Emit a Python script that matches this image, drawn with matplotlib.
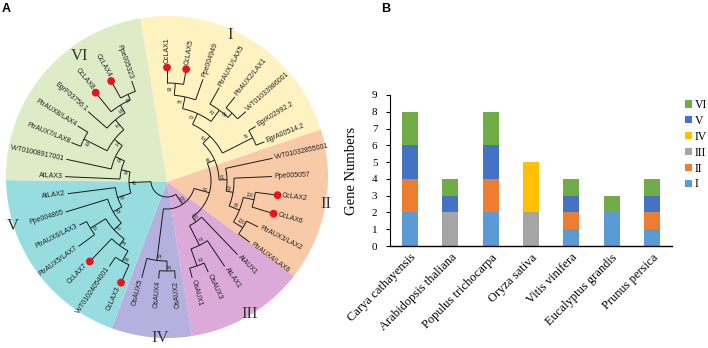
import matplotlib
matplotlib.use('Agg')
import matplotlib.pyplot as plt
import numpy as np
from matplotlib.patches import Polygon, Circle
from matplotlib.patches import Patch

# ---------------- Panel B data ----------------
species = ["Carya cathayensis", "Arabidopsis thaliana", "Populus trichocarpa",
           "Oryza sativa", "Vitis vinifera", "Eucalyptus grandis", "Prunus persica"]
groups = ["I", "II", "III", "IV", "V", "VI"]
group_I = [2, 0, 2, 0, 1, 2, 1]
group_II = [2, 0, 2, 0, 1, 0, 1]
group_III = [0, 2, 0, 2, 0, 0, 0]
group_IV = [0, 0, 0, 3, 0, 0, 0]
group_V = [2, 1, 2, 0, 1, 0, 1]
group_VI = [2, 1, 2, 0, 1, 1, 1]
group_colors = ["#5B9BD5", "#ED7D31", "#A5A5A5", "#FFC000", "#4472C4", "#70AD47"]
yticks = [0, 1, 2, 3, 4, 5, 6, 7, 8, 9]

# ---------------- Panel A data (tree) ----------------
# custom newick: name_or_bootstrap:radius (radius = distance from tree centre, px)
clade_I = ("((((CcLAX1:112,CcLAX5:112)90:98,Ppe004949:108)75:86,"
           "(PtrAUX1/LAX5:107,(PtrAUX2/LAX1:108,VvT01033986001:105)98:94)20:88)73:74,"
           "(EgrK02992.2:104,EgrA00514.2:105)76:96)62:62")
clade_II = ("(VvT01032855001:108,(Ppe005057:105,((CcLAX2:110,CcLAX6:110)100:89,"
            "(PtrAUX3/LAX2:102,PtrAUX4/LAX6:103)100:89)66:78)83:67)61:60")
clade_III = "(AtAUX1:102,(AtLAX1:103,(OsAUX3:100,OsAUX1:100)92:90)97:72)100:50"
clade_IV = "((OsAUX2:98,OsAUX4:98)38:90,OsAUX5:100)50:80"
clade_V = ("(((((CcLAX3:110,VvT01024054001:103)96:92,CcLAX7:110)38:80,"
           "(PtrAUX5/LAX7:110,PtrAUX6/LAX3:98)97:90)71:72,Ppe004865:106)80:62,AtLAX2:100)88:52")
clade_VI = ("(AtLAX3:102,(VvT01008917001:103,((PtrAUX7/LAX8:103,PtrAUX8/LAX4:105)99:93,"
            "(EgrF03756.1:105,(CcLAX8:112,(CcLAX4:113,Ppe005323:106)45:95)59:89)12:80)31:67)85:57)96:47")
tree_str = ("((((" + clade_I + "," + clade_II + ")49:52," + clade_III + ")84:44,"
            + clade_IV + ")100:28,(" + clade_V + "," + clade_VI + ")41:38):16")
highlight = ["CcLAX1", "CcLAX2", "CcLAX3", "CcLAX4", "CcLAX5", "CcLAX6", "CcLAX7", "CcLAX8"]

sector_names = ["I", "II", "III", "IV", "V", "VI"]
sector_colors = ["#FFF2C1", "#F9CAA8", "#DBAAD8", "#B5B1DE", "#97DDE0", "#DDEBC6"]
sector_edges = [(17.2, 99.5), (-37.9, 17.2), (-81.1, -37.9), (-110.1, -81.1),
                (-178.9, -110.1), (99.5, 181.1)]
sector_label_pos = [(230, 35), (326, 204), (250, 314), (160, 338), (13, 226), (80, 56)]

H = 348


def parse(s):
    pos = 0

    def node():
        nonlocal pos
        children = []
        if s[pos] == '(':
            pos += 1
            while True:
                children.append(node())
                if s[pos] == ',':
                    pos += 1
                    continue
                if s[pos] == ')':
                    pos += 1
                    break
        start = pos
        while pos < len(s) and s[pos] not in ',():':
            pos += 1
        name = s[start:pos]
        r = None
        if pos < len(s) and s[pos] == ':':
            pos += 1
            start = pos
            while pos < len(s) and s[pos] not in ',()':
                pos += 1
            r = float(s[start:pos])
        return {'name': name, 'r': r, 'children': children}
    return node()


tree = parse(tree_str)
leaves = []


def collect(n):
    if not n['children']:
        leaves.append(n)
    for c in n['children']:
        collect(c)


collect(tree)
A0, STEP = 90.0, 9.73
for k, lf in enumerate(leaves):
    lf['a'] = A0 - STEP * k


def set_angle(n):
    if n['children']:
        for c in n['children']:
            set_angle(c)
        n['a'] = (n['children'][0]['a'] + n['children'][-1]['a']) / 2


set_angle(tree)

fig = plt.figure(figsize=(7.08, 3.48), dpi=100)
ax = fig.add_axes([0, 0, 360 / 708, 1])
ax.set_xlim(0, 360)
ax.set_ylim(0, 348)
ax.axis('off')

# sectors
ccx, ccy, R = 167, H - 177, 161
apx, apy = 167, H - 182
for name, col, (a1, a2) in zip(sector_names, sector_colors, sector_edges):
    phi = np.radians(np.linspace(a1, a2, 80))
    pts = [(apx, apy)] + [(ccx + R * np.cos(p), ccy + R * np.sin(p)) for p in phi]
    ax.add_patch(Polygon(pts, closed=True, facecolor=col, edgecolor='none', zorder=1))
for name, (x, y) in zip(sector_names, sector_label_pos):
    ax.text(x, H - y, name, family='Liberation Serif', fontsize=12,
            ha='center', va='center', color='#333333', zorder=5)

# tree
tcx, tcy = 167, H - 181
LC = '#1a1a1a'


def xy(r, a):
    t = np.radians(a)
    return tcx + r * np.cos(t), tcy + r * np.sin(t)


def radial_text(r, a, s, size, fam, color='#222222'):
    a360 = a % 360
    x, y = xy(r, a)
    if 90 < a360 < 280:
        rot, ha = a360 - 180, 'right'
    else:
        rot = a360 if a360 <= 90 else a360 - 360
        ha = 'left'
    ax.text(x, y, s, rotation=rot, ha=ha, va='center', rotation_mode='anchor',
            fontsize=size, family=fam, color=color, zorder=6)


def draw(n):
    if not n['children']:
        return
    angs = [c['a'] for c in n['children']]
    phi = np.linspace(min(angs), max(angs), 60)
    xs, ys = xy(n['r'], phi)
    ax.plot(xs, ys, color=LC, lw=0.7, zorder=4, solid_capstyle='butt')
    for c in n['children']:
        x1, y1 = xy(n['r'], c['a'])
        x2, y2 = xy(c['r'], c['a'])
        ax.plot([x1, x2], [y1, y2], color=LC, lw=0.7, zorder=4, solid_capstyle='butt')
        draw(c)
    if n['name']:
        bx, by = xy(n['r'] - 5, n['a'] + 2.5)
        a360 = n['a'] % 360
        rot = a360 - 180 if 90 < a360 < 270 else (a360 if a360 <= 90 else a360 - 360)
        ax.text(bx, by, n['name'], fontsize=3.3, family='Liberation Sans', rotation=rot,
                ha='center', va='center', rotation_mode='anchor', color='#333333', zorder=6)


draw(tree)
for lf in leaves:
    if lf['name'] in highlight:
        dx, dy = xy(lf['r'] + 1.5, lf['a'])
        ax.add_patch(Circle((dx, dy), 3.2, color='#E8141B', zorder=7))
        radial_text(lf['r'] + 6, lf['a'], lf['name'], 5, 'Liberation Sans')
    else:
        radial_text(lf['r'] + 2, lf['a'], lf['name'], 5, 'Liberation Sans')

fig.text(2 / 708, 1 - 9 / 348, "A", fontsize=9, fontweight='bold', family='Liberation Sans',
         ha='left', va='center')
fig.text(381 / 708, 1 - 9 / 348, "B", fontsize=9, fontweight='bold', family='Liberation Sans',
         ha='left', va='center')

# ---------------- Panel B ----------------
bx = fig.add_axes([390 / 708, 1 - 246 / 348, (672 - 390) / 708, (246 - 95) / 348])
series = [group_I, group_II, group_III, group_IV, group_V, group_VI]
xpos = np.arange(len(species))
bottom = np.zeros(len(species))
handles = []
for g, vals, col in zip(groups, series, group_colors):
    bx.bar(xpos, vals, width=0.4, bottom=bottom, color=col, edgecolor='none')
    bottom += np.array(vals)
    handles.append(Patch(facecolor=col, edgecolor='none', label=g))
bx.set_xlim(-0.5, len(species) - 0.5)
bx.set_ylim(0, 9)
bx.set_yticks(yticks)
bx.set_yticklabels([str(v) for v in yticks], family='Liberation Serif', fontsize=8)
bx.set_xticks(xpos)
bx.set_xticklabels(species, rotation=45, ha='right', va='top', rotation_mode='anchor',
                   family='Liberation Serif', fontsize=9)
bx.tick_params(axis='x', length=0, pad=4)
bx.tick_params(axis='y', length=3, width=0.8, direction='out', pad=6)
for s in ['top', 'right']:
    bx.spines[s].set_visible(False)
bx.spines['left'].set_linewidth(0.8)
bx.spines['bottom'].set_linewidth(1.0)
bx.set_ylabel("Gene Numbers", family='Liberation Serif', fontsize=10.5, labelpad=10)
bx.legend(handles[::-1], groups[::-1], loc='upper left', bbox_to_anchor=(685 / 708, 1 - 99 / 348),
          bbox_transform=fig.transFigure, frameon=False, prop={'family': 'Liberation Serif', 'size': 8.5},
          handlelength=0.6, handleheight=0.6, handletextpad=0.25, labelspacing=0.33,
          borderpad=0, borderaxespad=0)

fig.savefig("out.png", dpi=100)
